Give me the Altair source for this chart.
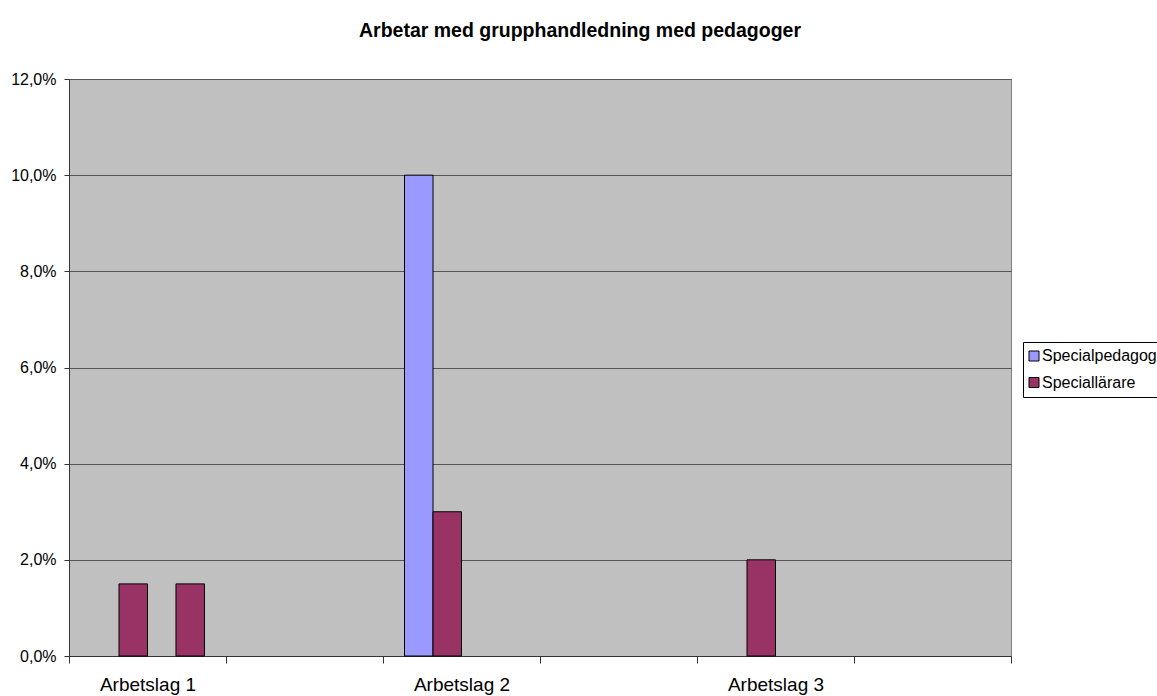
import altair as alt
import pandas as pd

# Categories on the x axis (every other slot carries a visible label)
kategorier = ["Arbetslag 1", "Arbetslag 1 (b)", "Arbetslag 2", "Arbetslag 2 (b)",
              "Arbetslag 3", "Arbetslag 3 (b)"]
serier = ["Specialpedagog", "Speciallärare", "Serie 3", "Serie 4"]
farger = ["#9999FF", "#993366", "#FFFFCC", "#993366"]

# Non-zero values per (category, series)
rad_kategori = ["Arbetslag 1", "Arbetslag 1", "Arbetslag 2", "Arbetslag 2", "Arbetslag 3"]
rad_serie = ["Speciallärare", "Serie 4", "Specialpedagog", "Speciallärare", "Speciallärare"]
rad_varde = [0.015, 0.015, 0.10, 0.03, 0.02]

y_ticks = [0.0, 0.02, 0.04, 0.06, 0.08, 0.10, 0.12]

df = pd.DataFrame({"kategori": rad_kategori, "serie": rad_serie, "andel": rad_varde})

FONT = "Liberation Sans"

chart = alt.Chart(df).mark_bar(stroke="black", strokeWidth=1).encode(
    x=alt.X(
        "kategori:N",
        sort=kategorier,
        scale=alt.Scale(domain=kategorier, paddingInner=0, paddingOuter=0),
        axis=alt.Axis(
            title=None,
            labelAngle=0,
            labelExpr="indexof(datum.label, '(b)') >= 0 ? '' : datum.label",
            tickBand="extent",
            tickSize=7,
            labelPadding=12,
            labelBaseline="top",
            labelFont=FONT,
            labelFontSize=19,
            labelColor="black",
            domainColor="#333333",
            tickColor="#333333",
            grid=False,
        ),
    ),
    xOffset=alt.XOffset(
        "serie:N",
        sort=serier,
        scale=alt.Scale(domain=serier, paddingInner=0, paddingOuter=0.755),
    ),
    y=alt.Y(
        "andel:Q",
        scale=alt.Scale(domain=[0, 0.12], nice=False),
        axis=alt.Axis(
            title=None,
            values=y_ticks,
            labelExpr="replace(format(datum.value, '.1%'), '.', ',')",
            tickSize=5,
            labelPadding=8,
            labelFont=FONT,
            labelFontSize=16,
            labelColor="black",
            domainColor="#333333",
            tickColor="#333333",
            gridColor="#555555",
            gridWidth=1,
        ),
    ),
    color=alt.Color(
        "serie:N",
        scale=alt.Scale(domain=serier, range=farger),
        legend=alt.Legend(
            title=None,
            values=["Specialpedagog", "Speciallärare"],
            orient="none",
            legendX=954,
            legendY=263,
            padding=6,
            strokeColor="black",
            fillColor="white",
            symbolType="square",
            symbolSize=100,
            symbolOffset=-3,
            symbolStrokeColor="black",
            symbolStrokeWidth=1,
            labelFont=FONT,
            labelFontSize=16,
            labelColor="black",
            labelOffset=0,
            rowPadding=10.5,
        ),
    ),
).properties(
    width=942,
    height=577,
    background="white",
    title=alt.TitleParams(
        "Arbetar med grupphandledning med pedagoger",
        font=FONT,
        fontSize=19.5,
        fontWeight="bold",
        color="black",
        anchor="middle",
        dx=40,
        baseline="alphabetic",
        offset=15,
    ),
    autosize=alt.AutoSizeParams(type="none"),
    padding={"left": 69, "top": 79, "right": 146, "bottom": 40},
).configure_view(
    fill="#C0C0C0",
    stroke="#808080",
    strokeWidth=1,
)

chart.save("out.html", embed_options={"renderer": "svg", "actions": False})
